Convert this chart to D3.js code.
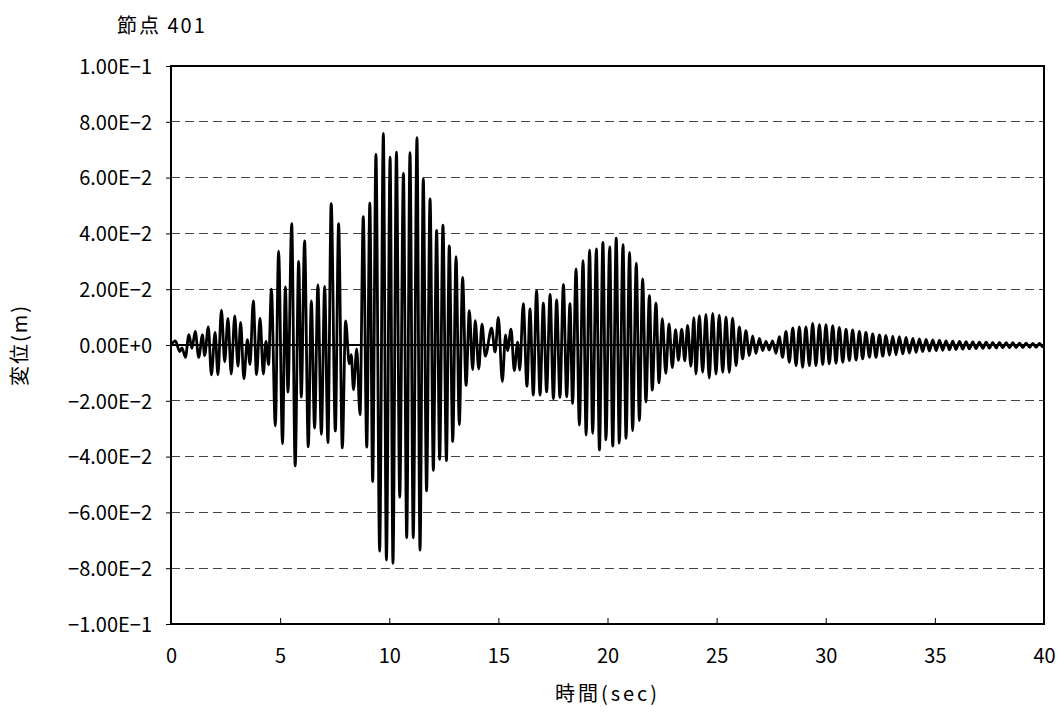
<!DOCTYPE html>
<html>
<head>
<meta charset="utf-8">
<script src="https://cdn.jsdelivr.net/npm/d3@7"></script>
<style>
  html, body { margin: 0; padding: 0; background: #fff; overflow: hidden; }
  svg { display: block; }
  text { font-family: "Noto Sans CJK JP", "Noto Sans", sans-serif; fill: #000; }
</style>
</head>
<body>
<svg id="chart" width="1064" height="714"></svg>
<script>
// axis ticks and labels
const xTicks = [0, 5, 10, 15, 20, 25, 30, 35, 40];
const yTicks = [0.1, 0.08, 0.06, 0.04, 0.02, 0, -0.02, -0.04, -0.06, -0.08, -0.1];
const yTickLabels = ["1.00E\u22121", "8.00E\u22122", "6.00E\u22122", "4.00E\u22122", "2.00E\u22122", "0.00E+0",
  "\u22122.00E\u22122", "\u22124.00E\u22122", "\u22126.00E\u22122", "\u22128.00E\u22122", "\u22121.00E\u22121"];

// displacement history, read as alternating peaks/troughs [time sec, displacement m]
const part1 = [
  [0, 0], [0.20, 0.0015], [0.40, -0.0024], [0.50, -0.0010], [0.66, -0.0044], [0.82, 0.0037], [0.96, -0.0012],
  [1.11, 0.0049], [1.27, -0.0044], [1.44, 0.0036], [1.54, -0.0038], [1.71, 0.0065], [1.85, -0.0107],
  [2.02, 0.0045], [2.15, -0.0107], [2.31, 0.0125], [2.46, -0.0060], [2.61, 0.0095], [2.76, -0.0104],
  [2.92, 0.0104], [3.07, -0.0076], [3.19, 0.0081], [3.34, -0.0121], [3.50, 0.0019], [3.62, -0.0070],
  [3.77, 0.0158], [3.92, -0.0106], [4.08, 0.0096], [4.23, -0.0104], [4.35, 0.0013], [4.47, -0.0070],
  [4.60, 0.0200], [4.78, -0.0290], [4.93, 0.0336], [5.11, -0.0354], [5.24, 0.0208], [5.36, -0.0169],
  [5.53, 0.0435], [5.69, -0.0433], [5.85, 0.0300], [5.97, -0.0187], [6.12, 0.0373], [6.29, -0.0365],
  [6.43, 0.0158], [6.58, -0.0298], [6.73, 0.0215], [6.89, -0.0320], [7.04, 0.0210], [7.19, -0.0350],
  [7.34, 0.0507], [7.53, -0.0308], [7.68, 0.0435], [7.85, -0.0369]
];
const part2 = [
  [8.00, 0.0086], [8.17, -0.0068], [8.26, -0.0035], [8.36, -0.0160], [8.51, -0.0014], [8.66, -0.0250],
  [8.81, 0.0460], [8.97, -0.0366], [9.11, 0.0508], [9.24, -0.0490], [9.39, 0.0683], [9.56, -0.0739],
  [9.73, 0.0758], [9.87, -0.0771], [10.04, 0.0673], [10.17, -0.0783], [10.33, 0.0691], [10.48, -0.0545],
  [10.65, 0.0615], [10.80, -0.0691], [10.95, 0.0689], [11.10, -0.0691], [11.27, 0.0743], [11.41, -0.0735],
  [11.56, 0.0596], [11.71, -0.0523], [11.87, 0.0524], [12.02, -0.0449], [12.17, 0.0411], [12.31, -0.0410],
  [12.46, 0.0430], [12.62, -0.0414], [12.75, 0.0355], [12.91, -0.0346], [13.06, 0.0317], [13.21, -0.0286],
  [13.36, 0.0242], [13.52, -0.0145], [13.67, 0.0123], [13.82, -0.0088], [13.94, 0.0087], [14.10, -0.0086],
  [14.25, 0.0075], [14.40, -0.0040], [14.69, 0.0060], [14.85, -0.0025], [15.00, 0.0099], [15.18, -0.0131],
  [15.33, 0.0036], [15.42, -0.0020], [15.58, 0.0057], [15.73, -0.0092], [15.88, 0.0010], [15.98, -0.0090]
];
const part3 = [
  [16.14, 0.0148], [16.31, -0.0148], [16.45, 0.0129], [16.60, -0.0180], [16.75, 0.0195], [16.91, -0.0180],
  [17.06, 0.0150], [17.21, -0.0168], [17.37, 0.0181], [17.52, -0.0192], [17.67, 0.0162], [17.82, -0.0188],
  [17.98, 0.0217], [18.13, -0.0186], [18.28, 0.0148], [18.40, -0.0210], [18.56, 0.0273], [18.71, -0.0287],
  [18.88, 0.0302], [19.02, -0.0323], [19.18, 0.0340], [19.32, -0.0317], [19.49, 0.0344], [19.63, -0.0376],
  [19.79, 0.0368], [19.93, -0.0340], [20.10, 0.0352], [20.24, -0.0362], [20.40, 0.0383], [20.54, -0.0352],
  [20.71, 0.0360], [20.85, -0.0335], [21.01, 0.0332], [21.15, -0.0307], [21.32, 0.0293], [21.46, -0.0271],
  [21.61, 0.0237], [21.76, -0.0204], [21.92, 0.0177], [22.05, -0.0162], [22.22, 0.0150], [22.36, -0.0136],
  [22.51, 0.0094], [22.67, -0.0102], [22.82, 0.0076], [22.97, -0.0081], [23.12, 0.0055], [23.25, -0.0055],
  [23.40, 0.0057], [23.54, -0.0057], [23.67, 0.0070], [23.82, -0.0076], [23.96, 0.0098]
];
const part4 = [
  [24.05, -0.0104], [24.21, 0.0105], [24.36, -0.0098], [24.51, 0.0110], [24.66, -0.0118], [24.82, 0.0113],
  [24.97, -0.0104], [25.12, 0.0107], [25.28, -0.0098], [25.43, 0.0101], [25.58, -0.0098], [25.73, 0.0096],
  [25.89, -0.0074], [26.04, 0.0065], [26.19, -0.0050], [26.34, 0.0051], [26.50, -0.0038], [26.65, 0.0033],
  [26.80, -0.0030], [26.96, 0.0024], [27.11, -0.0020], [27.26, 0.0013], [27.41, -0.0018], [27.56, 0.0015],
  [27.72, -0.0030], [27.87, 0.0030], [28.02, -0.0044], [28.18, 0.0049], [28.33, -0.0062], [28.49, 0.0061],
  [28.64, -0.0074], [28.79, 0.0065], [28.94, -0.0080], [29.09, 0.0065], [29.25, -0.0074], [29.40, 0.0077],
  [29.55, -0.0074], [29.71, 0.0073], [29.86, -0.0070], [30.01, 0.0073], [30.16, -0.0068], [30.32, 0.0069],
  [30.47, -0.0065], [30.62, 0.0063], [30.78, -0.0062], [30.93, 0.0057], [31.08, -0.0056], [31.23, 0.0054],
  [31.39, -0.0054], [31.54, 0.0049], [31.69, -0.0050], [31.84, 0.0045], [32.00, -0.0044]
];
const part5 = [
  [32.15, 0.0040], [32.30, -0.0044], [32.46, 0.0036], [32.61, -0.0040], [32.76, 0.0034], [32.92, -0.0037],
  [33.07, 0.0032], [33.22, -0.0035], [33.37, 0.0030], [33.53, -0.0032], [33.68, 0.0027], [33.83, -0.0029],
  [33.99, 0.0024], [34.14, -0.0026], [34.29, 0.0022], [34.44, -0.0024], [34.60, 0.0020], [34.75, -0.0022],
  [34.90, 0.0018], [35.06, -0.0020], [35.21, 0.0017], [35.36, -0.0019], [35.51, 0.0015], [35.67, -0.0017],
  [35.82, 0.0014], [35.97, -0.0016], [36.13, 0.0013], [36.28, -0.0015], [36.43, 0.0012], [36.58, -0.0014],
  [36.74, 0.0011], [36.89, -0.0013], [37.04, 0.0010], [37.20, -0.0012], [37.35, 0.0010], [37.50, -0.0011],
  [37.65, 0.0009], [37.81, -0.0011], [37.96, 0.0009], [38.11, -0.0010], [38.27, 0.0008], [38.42, -0.0010],
  [38.57, 0.0008], [38.72, -0.0009], [38.88, 0.0007], [39.03, -0.0009], [39.18, 0.0007], [39.34, -0.0008],
  [39.49, 0.0006], [39.64, -0.0008], [39.79, 0.0006], [39.95, -0.0007], [40.00, -0.0004]
];

const svg = d3.select("#chart");
const margin = { top: 66, right: 20, bottom: 90, left: 171 };
const innerWidth = 1044 - margin.left;
const innerHeight = 624 - margin.top;

const data = [...part1, ...part2, ...part3, ...part4, ...part5];

const xScale = d3.scaleLinear().domain([0, 40]).range([0, innerWidth]);
const yScale = d3.scaleLinear().domain([-0.1, 0.1]).range([innerHeight, 0]);

const g = svg.append("g")
  .attr("transform", `translate(${margin.left},${margin.top})`);

// dashed grid
g.append("g")
  .attr("class", "grid")
  .selectAll("line")
  .data(yTicks.filter(d => d !== 0 && Math.abs(d) < 0.1))
  .join("line")
  .attr("x1", 0)
  .attr("x2", innerWidth)
  .attr("y1", d => yScale(d))
  .attr("y2", d => yScale(d))
  .attr("stroke", "#444")
  .attr("stroke-width", 1)
  .attr("stroke-dasharray", "9,5")
  .attr("shape-rendering", "crispEdges");

// y axis, ticks outward
const yAxis = g.append("g")
  .call(d3.axisLeft(yScale).tickValues(yTicks).tickSize(5).tickFormat((d, i) => yTickLabels[i]));
yAxis.select(".domain").remove();
yAxis.selectAll("line").attr("stroke", "#000").attr("stroke-width", 1);
yAxis.selectAll("text")
  .attr("x", -19)
  .attr("dy", "0.36em")
  .style("font-size", "20px");

// x axis at the bottom, ticks inward
const xAxis = g.append("g")
  .attr("transform", `translate(0,${innerHeight})`)
  .call(d3.axisBottom(xScale).tickValues(xTicks).tickSize(-6).tickFormat(d3.format("d")));
xAxis.select(".domain").remove();
xAxis.selectAll("line").attr("stroke", "#000").attr("stroke-width", 1);
xAxis.selectAll("text")
  .attr("y", 25)
  .attr("dy", "0.71em")
  .style("font-size", "20px");

// zero line
g.append("line")
  .attr("x1", 0)
  .attr("x2", innerWidth)
  .attr("y1", yScale(0))
  .attr("y2", yScale(0))
  .attr("stroke", "#000")
  .attr("stroke-width", 2);

// series
const line = d3.line()
  .x(d => xScale(d[0]))
  .y(d => yScale(d[1]))
  .curve(d3.curveMonotoneX);

g.append("path")
  .datum(data)
  .attr("fill", "none")
  .attr("stroke", "#000")
  .attr("stroke-width", 2.8)
  .attr("stroke-linejoin", "round")
  .attr("d", line);

// plot border
g.append("rect")
  .attr("width", innerWidth)
  .attr("height", innerHeight)
  .attr("fill", "none")
  .attr("stroke", "#000")
  .attr("stroke-width", 2);

// titles
svg.append("text")
  .attr("x", 117)
  .attr("y", 33)
  .style("font-size", "20px")
  .style("letter-spacing", "2px")
  .text("節点 401");

svg.append("text")
  .attr("transform", `translate(27,${margin.top + innerHeight / 2}) rotate(-90)`)
  .attr("text-anchor", "middle")
  .style("font-size", "20px")
  .style("letter-spacing", "2px")
  .text("変位(m)");

svg.append("text")
  .attr("x", margin.left + innerWidth / 2)
  .attr("y", 701)
  .attr("text-anchor", "middle")
  .style("font-size", "20px")
  .style("letter-spacing", "3px")
  .text("時間(sec)");
</script>
</body>
</html>
